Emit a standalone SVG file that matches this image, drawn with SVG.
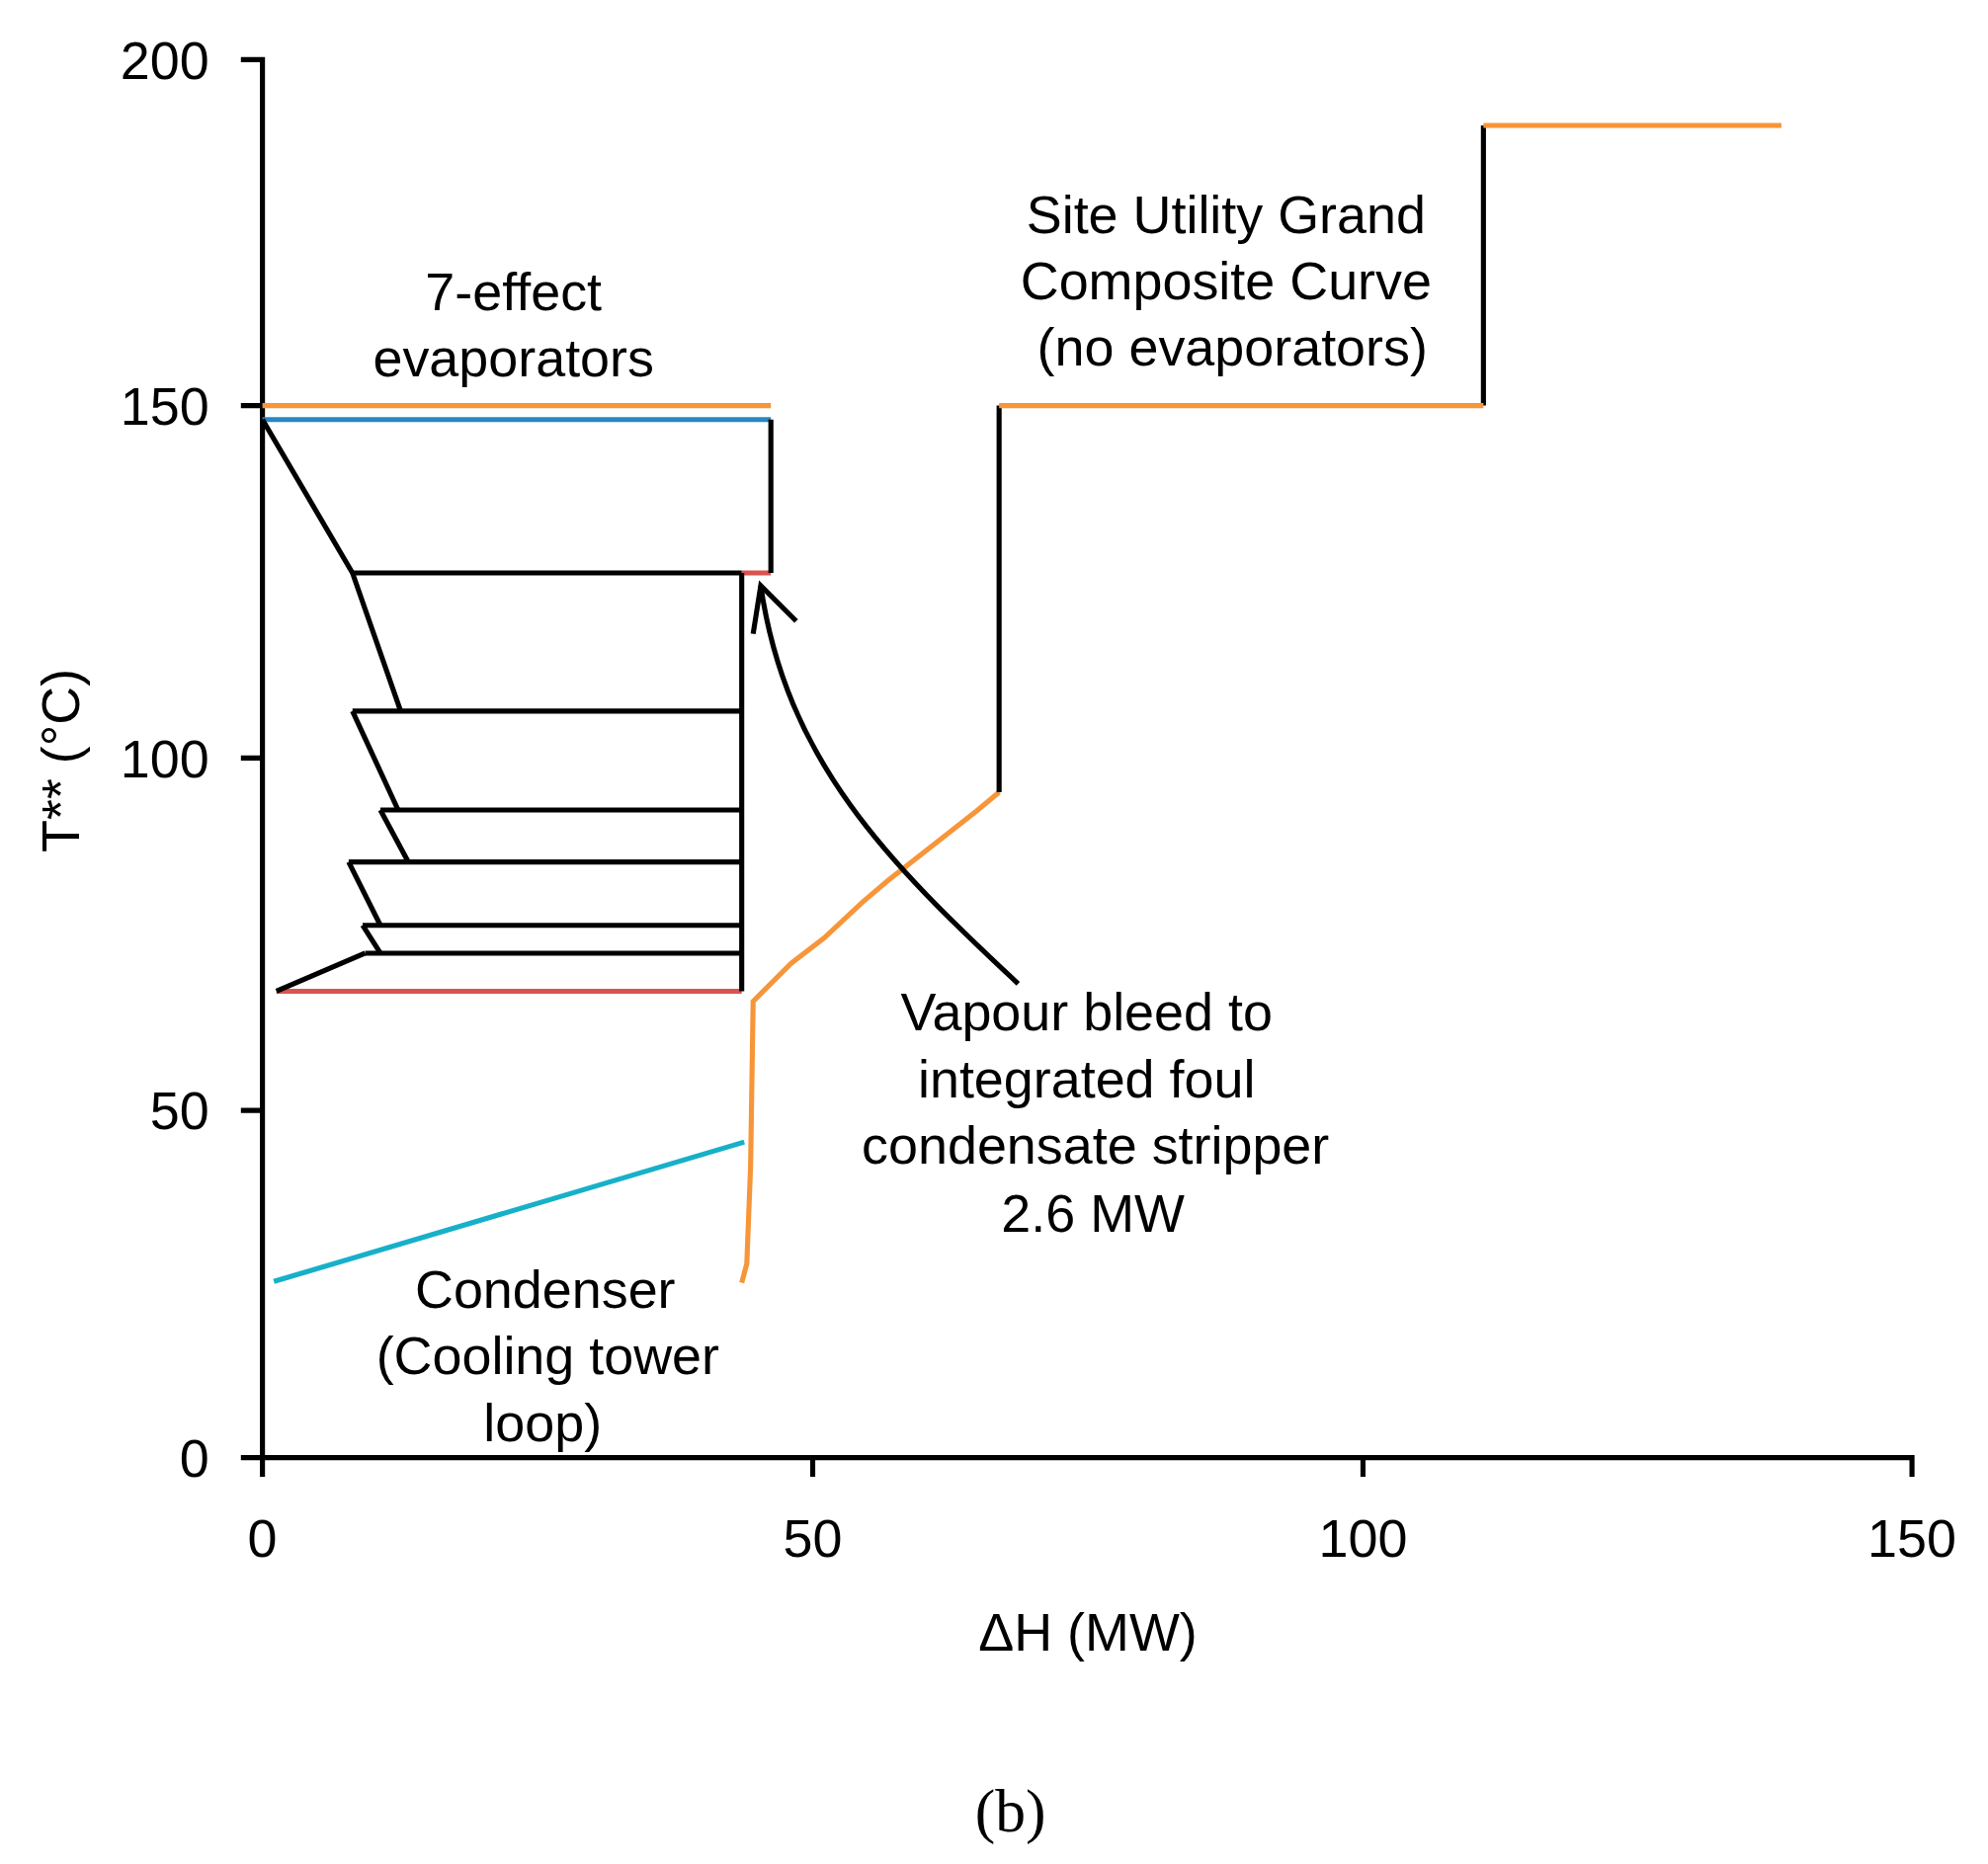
<svg xmlns="http://www.w3.org/2000/svg" width="2012" height="1887" viewBox="0 0 2012 1887">
<style>
.t{font-family:"Liberation Sans",Arial,sans-serif;font-size:42px;fill:#000}
.m{text-anchor:middle}
.k{stroke:#000;stroke-width:4;fill:none}
.o{stroke:#f79539;stroke-width:4;fill:none}
</style>
<rect width="2012" height="1887" fill="#fff"/>
<g transform="scale(1.2832)">
<g id="axes" class="k">
<path d="M190,47H207V1150M1508,1165V1150H207"/>
<path d="M190,320H207M190,598H207M190,876H207M190,1150H207M207,1165V1150M641,1165V1150M1075,1165V1150"/>
</g>
<g id="ticks" class="t">
<text x="165" y="62" text-anchor="end">200</text>
<text x="165" y="335" text-anchor="end">150</text>
<text x="165" y="613" text-anchor="end">100</text>
<text x="165" y="891" text-anchor="end">50</text>
<text x="165" y="1165" text-anchor="end">0</text>
<text class="t m" x="207" y="1228">0</text>
<text class="t m" x="641" y="1228">50</text>
<text class="t m" x="1075" y="1228">100</text>
<text class="t m" x="1508" y="1228">150</text>
<text class="t m" x="858" y="1302">ΔH (MW)</text>
<text class="t m" transform="translate(62,600) rotate(-90)">T** (°C)</text>
</g>
<g id="evaporators">
<path d="M207,320H608" class="o"/>
<path d="M207,331H608" stroke="#2a86c5" stroke-width="4"/>
<path d="M585,452H608M218,782H585" stroke="#d9534f" stroke-width="4"/>
<path class="k" d="M608,331V452M585,452V782M278,452H585M278,561H585M300,639H585M275,680H585M286,730H585M288,752H585"/>
<path class="k" d="M207,331L278,452L316,561M278,561L314,639M300,639L322,680M275,680L300,730M286,730L300,752M288,752L218,782"/>
</g>
<g id="condenser">
<path d="M216,1011L587,901" stroke="#17b0c9" stroke-width="4"/>
</g>
<g id="gcc">
<path class="o" d="M585,1012L589,997L592,920L594,790L624,760L650,740L680,712L700,695L770,640L788,625"/>
<path class="k" d="M788,625V320M1170,320V99"/>
<path class="o" d="M788,320H1170M1170,99H1405"/>
</g>
<g id="connectors" class="k">
<path d="M803,776C700,680 620,600 600,462"/>
<path d="M594,500L600,462L628,490"/>
</g>
<g id="labels" class="t m">
<text x="405" y="245">7-effect</text>
<text x="405" y="297">evaporators</text>
<text x="967" y="184">Site Utility Grand</text>
<text x="967" y="236">Composite Curve</text>
<text x="972" y="288">(no evaporators)</text>
<text x="857" y="813">Vapour bleed to</text>
<text x="857" y="866">integrated foul</text>
<text x="864" y="918">condensate stripper</text>
<text x="862" y="972">2.6 MW</text>
<text x="430" y="1032">Condenser</text>
<text x="432" y="1084">(Cooling tower</text>
<text x="428" y="1137">loop)</text>
<text x="797" y="1445" style="font-family:'Liberation Serif',serif;font-size:48px">(b)</text>
</g>
</g>
</svg>
